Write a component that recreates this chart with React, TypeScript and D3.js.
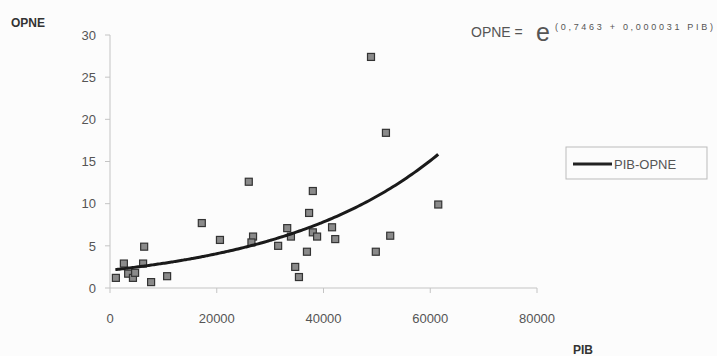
import React from "react";
import * as d3 from "d3";

const pib = [1100, 2600, 3400, 4300, 4700, 6200, 6400, 7700, 10700, 17200, 20600, 26000, 26800, 26500, 31500, 33200, 33900, 34700, 35400, 36900, 37300, 38000, 38000, 38800, 41600, 42200, 48900, 51700, 52500, 49800, 61500];
const opne = [1.2, 2.9, 1.7, 1.2, 1.8, 2.9, 4.9, 0.7, 1.4, 7.7, 5.7, 12.6, 6.1, 5.4, 5.0, 7.1, 6.1, 2.5, 1.3, 4.3, 8.9, 11.5, 6.6, 6.1, 7.2, 5.8, 27.4, 18.4, 6.2, 4.3, 9.9];
const xTicks = [0, 20000, 40000, 60000, 80000];
const yTicks = [0, 5, 10, 15, 20, 25, 30];
const trendA = [0.7463];
const trendB = [0.0000328];
const trendRange = [1000, 61500];

export default function App() {
  const x = d3.scaleLinear().domain([0, 80000]).range([110, 537]);
  const y = d3.scaleLinear().domain([0, 30]).range([288, 35]);
  const font = "'Liberation Sans', Arial, sans-serif";
  const trendPts = d3.range(trendRange[0], trendRange[1] + 1, 500).map((v) => [v, Math.exp(trendA[0] + trendB[0] * v)] as [number, number]);
  const line = d3.line<[number, number]>().x((d) => x(d[0])).y((d) => y(d[1])).curve(d3.curveMonotoneX);
  const axisColor = "#c4c4c4";
  const textColor = "#555";
  return (
    <svg width={717} height={356} style={{ position: "absolute", left: 0, top: 0, background: "#fcfcfc" }} fontFamily={font}>
      <rect x={0} y={0} width={717} height={356} fill="#fcfcfc" />
      {/* y axis */}
      <line x1={110} x2={110} y1={y(30)} y2={y(0)} stroke={axisColor} strokeWidth={1} />
      {yTicks.map((t) => (
        <g key={"y" + t}>
          <line x1={105} x2={110} y1={y(t)} y2={y(t)} stroke={axisColor} />
          <text x={96} y={y(t)} dy="0.36em" textAnchor="end" fontSize={13} fill={textColor}>{t}</text>
        </g>
      ))}
      {/* x axis */}
      <line x1={x(0)} x2={x(80000)} y1={288} y2={288} stroke={axisColor} strokeWidth={1} />
      {xTicks.map((t) => (
        <g key={"x" + t}>
          <line x1={x(t)} x2={x(t)} y1={288} y2={293} stroke={axisColor} />
          <text x={x(t)} y={318} dy="0.36em" textAnchor="middle" fontSize={13} fill={textColor}>{t}</text>
        </g>
      ))}
      <text x={11} y={23} dy="0.36em" fontSize={12} fontWeight="bold" fill="#333">OPNE</text>
      <text x={573} y={350} dy="0.36em" fontSize={12} fontWeight="bold" fill="#333">PIB</text>
      {/* points */}
      {pib.map((v, i) => (
        <rect key={"p" + i} x={x(v) - 3.5} y={y(opne[i]) - 3.5} width={7} height={7} fill="#8a8a8a" stroke="#333" strokeWidth={1.2} />
      ))}
      {/* trend */}
      <path d={line(trendPts) || ""} fill="none" stroke="#1a1a1a" strokeWidth={3} />
      {/* equation */}
      <text x={471} y={32} dy="0.36em" fontSize={14} fill={textColor}>OPNE =</text>
      <text x={536} y={32} dy="0.36em" fontSize={25} fill={textColor}>e</text>
      <text x={555} y={27} dy="0.36em" fontSize={9} fill={textColor} textLength={158} lengthAdjust="spacing">(0,7463 + 0,000031 PIB)</text>
      {/* legend */}
      <rect x={566} y={147} width={141} height={32} fill="#fcfcfc" stroke="#bbb" strokeWidth={1} />
      <line x1={573} x2={612} y1={164} y2={164} stroke="#222" strokeWidth={3} />
      <text x={614} y={164} dy="0.36em" fontSize={13} fill={textColor}>PIB-OPNE</text>
    </svg>
  );
}
